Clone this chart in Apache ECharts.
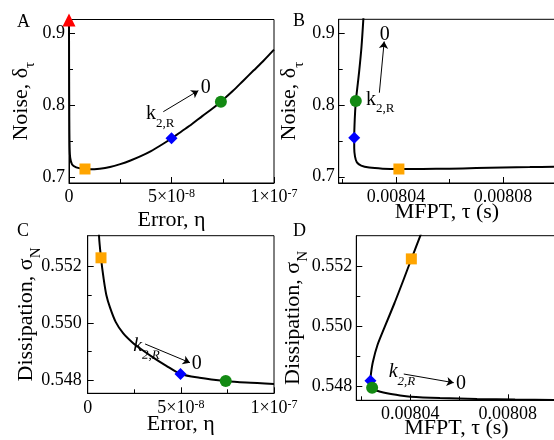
<!DOCTYPE html>
<html><head><meta charset="utf-8">
<script src="https://cdn.jsdelivr.net/npm/echarts@6/dist/echarts.min.js"></script>
<style>html,body{margin:0;padding:0;background:#fff}#c{width:554px;height:440px}</style>
</head><body><div id="c"></div>
<script>
// ---------- DATA ----------
// Panel A: Error (units of 1e-8) vs Noise
const errA   = [0, 0.005, 0.015, 0.03, 0.06, 0.15, 0.35, 0.7, 1.0, 1.5, 2.0, 2.5, 3.0, 3.5, 4.0, 4.5, 5.0, 5.5, 6.0, 6.5, 7.0, 7.41, 8.0, 8.5, 9.0, 9.5, 10];
const noiseA = [0.918, 0.85, 0.78, 0.742, 0.727, 0.718, 0.714, 0.7118, 0.7113, 0.7122, 0.7145, 0.7185, 0.7235, 0.7295, 0.7365, 0.745, 0.754, 0.764, 0.774, 0.785, 0.7955, 0.805, 0.82, 0.834, 0.848, 0.862, 0.877];
// Panel B: MFPT (s) vs Noise
const mfptB  = [0.0080279, 0.0080271, 0.0080262, 0.0080255, 0.0080250, 0.0080246, 0.0080244, 0.0080244, 0.0080247, 0.0080254, 0.0080270, 0.0080300, 0.0080350, 0.0080411, 0.0080500, 0.0080600, 0.0080700, 0.0080800, 0.0080900, 0.0081000];
const noiseB = [0.925, 0.88, 0.845, 0.822, 0.805, 0.78, 0.754, 0.74, 0.728, 0.72, 0.7155, 0.7128, 0.7113, 0.7108, 0.7109, 0.7113, 0.7121, 0.713, 0.7135, 0.714];
// Panel C: Error (units of 1e-8) vs Dissipation
const errC   = [0.55, 0.607, 0.714, 0.85, 1.0, 1.2, 1.5, 1.9, 2.4, 2.8, 3.5, 4.2, 5.0, 6.0, 7.41, 8.5, 10];
const dissC  = [0.5545, 0.55309, 0.55231, 0.5516, 0.5510, 0.55055, 0.55005, 0.54965, 0.54932, 0.54912, 0.5488, 0.54851, 0.54821, 0.54808, 0.547965, 0.54791, 0.54786];
// Panel D: MFPT (s) vs Dissipation
const mfptD  = [0.0080446, 0.0080441, 0.0080404, 0.0080370, 0.0080335, 0.0080298, 0.0080265, 0.0080246, 0.0080238, 0.0080236, 0.0080237, 0.0080243, 0.0080259, 0.0080304, 0.0080358, 0.0080400, 0.0080522, 0.0080674, 0.0080830, 0.0081000];
const dissD  = [0.55319, 0.553033, 0.552257, 0.551523, 0.55079, 0.550057, 0.54939, 0.548823, 0.548423, 0.5482, 0.548073, 0.547967, 0.547873, 0.54778, 0.547707, 0.547667, 0.547623, 0.54759, 0.54757, 0.547557];

// Highlighted points [x, y]
const triA = [0, 0.918];
const sqA = [0.78, 0.7118],   diaA = [5.0, 0.7542],      cirA = [7.41, 0.805];
const sqB = [0.0080411, 0.7108], diaB = [0.0080244, 0.7542], cirB = [0.008025, 0.8056];
const sqC = [0.714, 0.55231], diaC = [4.98, 0.54821],    cirC = [7.41, 0.547965];
const sqD = [0.0080404, 0.55226], diaD = [0.0080236, 0.5482], cirD = [0.0080243, 0.547967];

// Ticks
const errTicks = [0, 5, 10];
const errTickLabels = ['0', '{n|5×10}{p|-8}', '{n|1×10}{p|-7}'];
const errMinor = [2.5, 7.5];
const mfptTicks = [0.00804, 0.00808];
const mfptTickLabels = ['0.00804', '0.00808'];
const mfptMinor = [0.00802, 0.00806, 0.0081];
const noiseTicks = [0.7, 0.8, 0.9];
const noiseTickLabels = ['0.7', '0.8', '0.9'];
const noiseMinor = [0.75, 0.85];
const dissTicks = [0.548, 0.55, 0.552];
const dissTickLabels = ['0.548', '0.550', '0.552'];
const dissMinor = [0.549, 0.551];

// Annotations: arrows [from, to] and text anchors
const arrowA = [[4.6, 0.7911], [6.31, 0.8202]];
const arrowB = [[0.0080338, 0.8171], [0.0080356, 0.8884]];
const arrowC = [[3.08, 0.54927], [5.49, 0.54861]];
const arrowD = [[0.0080373, 0.548423], [0.0080578, 0.548133]];
const kA = [3.76, 0.784], zeroA = [6.67, 0.824];
const kB = [0.0080288, 0.8035], zeroB = [0.0080358, 0.8977];
const kC = [2.45, 0.5491], zeroC = [5.85, 0.54859];
const kD = [0.0080311, 0.5484], zeroD = [0.0080608, 0.54809];

// ---------- CHART ----------
const FF = '"Liberation Serif","Times New Roman",serif';
const zip = (a, b) => a.map((v, i) => [v, b[i]]);
function lab(ticks, labels) {
  return v => { for (let i = 0; i < ticks.length; i++) if (Math.abs(v - ticks[i]) < 1e-9 * Math.max(1, Math.abs(ticks[i]))) return labels[i]; return ''; };
}
const richTick = {
  n: {fontSize: 18, fontFamily: FF, color: '#000', lineHeight: 20, verticalAlign: 'top'},
  p: {fontSize: 12, fontFamily: FF, color: '#000', lineHeight: 12, verticalAlign: 'top'}
};
const richName = {
  a: {fontSize: 22, fontFamily: FF, color: '#000', lineHeight: 28, verticalAlign: 'top'},
  s: {fontSize: 15, fontFamily: FF, color: '#000', lineHeight: 15, verticalAlign: 'bottom'}
};
function xMain(gi, min, max, ticks, labels, margin) {
  return {type: 'value', gridIndex: gi, min, max, position: 'bottom',
    axisLine: {show: true, onZero: false, lineStyle: {color: '#000', width: 1}},
    axisTick: {show: true, inside: true, length: 6, customValues: ticks, lineStyle: {color: '#000', width: 1}},
    axisLabel: {show: true, customValues: ticks, formatter: lab(ticks, labels), margin, color: '#000', fontFamily: FF, fontSize: 18, rich: richTick, hideOverlap: false},
    splitLine: {show: false}, minorTick: {show: false}
  };
}
function yMain(gi, min, max, ticks, labels, name, gap, margin) {
  return {type: 'value', gridIndex: gi, min, max, position: 'left',
    axisLine: {show: true, onZero: false, lineStyle: {color: '#000', width: 1}},
    axisTick: {show: true, inside: true, length: 6, customValues: ticks, lineStyle: {color: '#000', width: 1}},
    axisLabel: {show: true, customValues: ticks, formatter: lab(ticks, labels), margin, color: '#000', fontFamily: FF, fontSize: 18, hideOverlap: false},
    splitLine: {show: false},
    name, nameLocation: 'middle', nameGap: gap, nameRotate: 90, nameMoveOverlap: false,
    nameTextStyle: {color: '#000', fontFamily: FF, fontSize: 22, rich: richName}
  };
}
function minorAx(gi, min, max, ticks, pos) {
  return {type: 'value', gridIndex: gi, min, max, position: pos,
    axisLine: {show: false, onZero: false}, axisLabel: {show: false}, splitLine: {show: false},
    axisTick: {show: true, inside: true, length: 4, customValues: ticks, lineStyle: {color: '#000', width: 1}}};
}
const grids = [
  {left: 69, top: 19.5, width: 205, height: 163.5},
  {left: 338.7, top: 19.3, width: 217.8, height: 163.7},
  {left: 87.7, top: 235.7, width: 186.3, height: 157.6},
  {left: 356.3, top: 235.7, width: 200.2, height: 164.6}
].map(g => Object.assign(g, {show: true, borderColor: '#000', borderWidth: 1, backgroundColor: 'transparent', containLabel: false, outerBoundsMode: 'none'}));

const xr = [[0, 10], [0.0080186, 0.0081], [0, 10], [0.0080178, 0.0081]];
const yr = [[0.6924, 0.9187], [0.6913, 0.91934], [0.54753, 0.55309], [0.547547, 0.553033]];

const xAxis = [
  xMain(0, xr[0][0], xr[0][1], errTicks, errTickLabels, 5),
  xMain(1, xr[1][0], xr[1][1], mfptTicks, mfptTickLabels, 5),
  xMain(2, xr[2][0], xr[2][1], errTicks, errTickLabels, 6),
  xMain(3, xr[3][0], xr[3][1], mfptTicks, mfptTickLabels, 5),
  minorAx(0, xr[0][0], xr[0][1], errMinor, 'bottom'),
  minorAx(1, xr[1][0], xr[1][1], mfptMinor, 'bottom'),
  minorAx(2, xr[2][0], xr[2][1], errMinor, 'bottom'),
  minorAx(3, xr[3][0], xr[3][1], mfptMinor, 'bottom')
];
const yAxis = [
  yMain(0, yr[0][0], yr[0][1], noiseTicks, noiseTickLabels, '{a|Noise, δ}{s|τ}', 31, 4),
  yMain(1, yr[1][0], yr[1][1], noiseTicks, noiseTickLabels, '{a|Noise, δ}{s|τ}', 32, 4),
  yMain(2, yr[2][0], yr[2][1], dissTicks, dissTickLabels, '{a|Dissipation, σ}{s|N}', 44, 6),
  yMain(3, yr[3][0], yr[3][1], dissTicks, dissTickLabels, '{a|Dissipation, σ}{s|N}', 46, 4),
  minorAx(0, yr[0][0], yr[0][1], noiseMinor, 'left'),
  minorAx(1, yr[1][0], yr[1][1], noiseMinor, 'left'),
  minorAx(2, yr[2][0], yr[2][1], dissMinor, 'left'),
  minorAx(3, yr[3][0], yr[3][1], dissMinor, 'left')
];

const richAnn = {
  k: {fontSize: 20, fontFamily: FF, color: '#000', lineHeight: 26, verticalAlign: 'top'},
  ki: {fontSize: 20, fontFamily: FF, fontStyle: 'italic', color: '#000', lineHeight: 26, verticalAlign: 'top'},
  s: {fontSize: 13, fontFamily: FF, color: '#000', lineHeight: 13, verticalAlign: 'bottom'},
  si: {fontSize: 13, fontFamily: FF, fontStyle: 'italic', color: '#000', lineHeight: 13, verticalAlign: 'bottom'},
  z: {fontSize: 20, fontFamily: FF, color: '#000'}
};
function ann(arrow, kPos, zPos, italic, kRot) {
  return {
    markLine: {silent: true, animation: false, symbol: ['none', 'arrow'], symbolSize: 7,
      lineStyle: {color: '#000', width: 1, type: 'solid'}, itemStyle: {color: '#000'}, label: {show: false},
      emphasis: {disabled: true},
      data: [[{coord: arrow[0]}, {coord: arrow[1]}]]},
    markPoint: {silent: true, animation: false, symbol: 'circle', symbolSize: 0,
      data: [
        {coord: kPos, label: {show: true, position: 'inside', align: 'left', rotate: kRot || 0,
          formatter: italic ? '{ki|k}{si|2,R}' : '{k|k}{s|2,R}', rich: richAnn}},
        {coord: zPos, label: {show: true, position: 'inside', formatter: '{z|0}', rich: richAnn}}
      ]}
  };
}
function curve(gi, xs, ys, a) {
  return Object.assign({type: 'line', xAxisIndex: gi, yAxisIndex: gi, data: zip(xs, ys), showSymbol: false, symbol: 'none',
    smooth: 0.3, lineStyle: {color: '#000', width: 2}, clip: true, silent: true, z: 3}, a);
}
function mk(gi, pt, sym, color, size) {
  return {type: 'scatter', xAxisIndex: gi, yAxisIndex: gi, data: [pt], symbol: sym, symbolSize: size,
    itemStyle: {color, opacity: 1}, clip: false, silent: true, z: 5};
}
const ORANGE = '#FFA500', BLUE = '#0000FF', GREEN = '#138A13', RED = '#FF0000';
const series = [
  curve(0, errA, noiseA, ann(arrowA, kA, zeroA, false)),
  curve(1, mfptB, noiseB, ann(arrowB, kB, zeroB, false)),
  curve(2, errC, dissC, ann(arrowC, kC, zeroC, true, -0.6)),
  curve(3, mfptD, dissD, Object.assign({smooth: 0.2}, ann(arrowD, kD, zeroD, true))),
  mk(0, triA, 'triangle', RED, 13),
  mk(0, sqA, 'rect', ORANGE, 11), mk(0, diaA, 'diamond', BLUE, 12), mk(0, cirA, 'circle', GREEN, 12),
  mk(1, sqB, 'rect', ORANGE, 11), mk(1, diaB, 'diamond', BLUE, 12), mk(1, cirB, 'circle', GREEN, 12),
  mk(2, sqC, 'rect', ORANGE, 11), mk(2, diaC, 'diamond', BLUE, 12), mk(2, cirC, 'circle', GREEN, 12),
  mk(3, sqD, 'rect', ORANGE, 11), mk(3, diaD, 'diamond', BLUE, 12), mk(3, cirD, 'circle', GREEN, 12)
];
const panelStyle = {fontSize: 18, fontFamily: FF, fill: '#000'};
const titleStyle = {fontSize: 22, fontFamily: FF, fill: '#000', align: 'center', verticalAlign: 'middle'};
const T = (text, x, y, st) => ({type: 'text', x, y, silent: true, style: Object.assign({text}, st)});
const graphic = [
  {type: 'text', left: 17, top: 13, style: Object.assign({text: 'A'}, panelStyle)},
  {type: 'text', left: 293, top: 12, style: Object.assign({text: 'B'}, panelStyle)},
  {type: 'text', left: 17, top: 222, style: Object.assign({text: 'C'}, panelStyle)},
  {type: 'text', left: 293, top: 222, style: Object.assign({text: 'D'}, panelStyle)},
  T('Error, η', 171.5, 220, titleStyle),
  T('MFPT, τ (s)', 447, 212, titleStyle),
  T('Error, η', 180.8, 424, titleStyle),
  T('MFPT, τ (s)', 456.5, 428, titleStyle)
];
const chart = echarts.init(document.getElementById('c'), null, {renderer: 'canvas'});
chart.setOption({animation: false, backgroundColor: '#fff', grid: grids, xAxis, yAxis, series, graphic});
</script></body></html>
